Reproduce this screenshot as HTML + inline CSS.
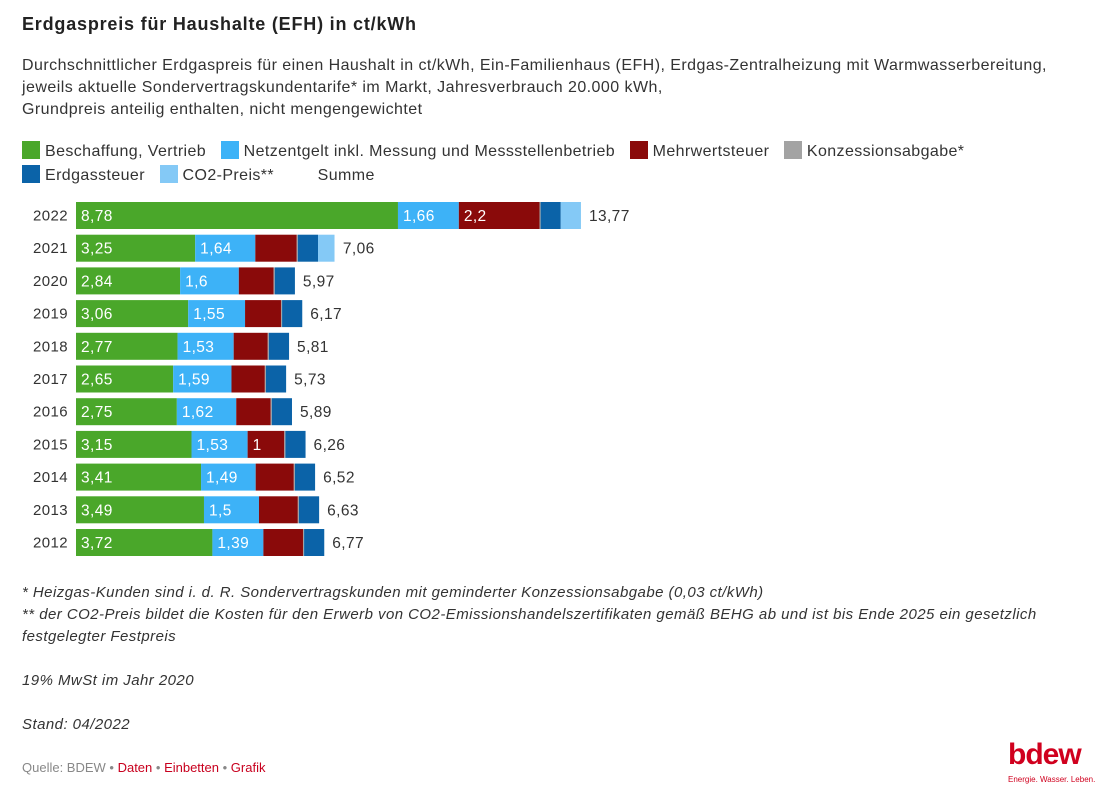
<!DOCTYPE html>
<html><head><meta charset="utf-8"><style>
body{margin:0;width:1113px;height:800px;background:#fff;font-family:"Liberation Sans",sans-serif;color:#333;position:relative;overflow:hidden}
.a{position:absolute;white-space:nowrap}
.sq{display:inline-block;width:18px;height:18px;vertical-align:-3px;margin-right:5px}
.it{font-style:italic;font-size:15px;letter-spacing:0.45px}
svg text{letter-spacing:0.4px}
</style></head><body>
<div class="a" style="left:22px;top:14px;font-size:18px;font-weight:bold;color:#222;letter-spacing:0.8px">Erdgaspreis für Haushalte (EFH) in ct/kWh</div>
<div class="a" style="left:22px;top:55px;font-size:16px;line-height:22px;letter-spacing:0.45px">Durchschnittlicher Erdgaspreis für einen Haushalt in ct/kWh, Ein-Familienhaus (EFH), Erdgas-Zentralheizung mit Warmwasserbereitung,<br>jeweils aktuelle Sondervertragskundentarife* im Markt, Jahresverbrauch 20.000 kWh,<br>Grundpreis anteilig enthalten, nicht mengengewichtet</div>
<div class="a" style="left:22px;top:140px;font-size:16px;line-height:24px;letter-spacing:0.4px">
<span><span class="sq" style="background:#4aa72a"></span>Beschaffung, Vertrieb</span>&nbsp;&nbsp;
<span><span class="sq" style="background:#3db2f7"></span>Netzentgelt inkl. Messung und Messstellenbetrieb</span>&nbsp;&nbsp;
<span><span class="sq" style="background:#8a0a0a"></span>Mehrwertsteuer</span>&nbsp;&nbsp;
<span><span class="sq" style="background:#a3a3a3"></span>Konzessionsabgabe*</span><br>
<span><span class="sq" style="background:#0b63a8"></span>Erdgassteuer</span>&nbsp;&nbsp;
<span><span class="sq" style="background:#84c9f6"></span>CO2-Preis**</span>&nbsp;&nbsp;&nbsp;&nbsp;&nbsp;&nbsp;&nbsp;&nbsp;
<span>Summe</span></div>
<svg class="a" style="left:0;top:0" width="1113" height="800" id="chart"></svg>
<div class="a it" style="left:22px;top:582px;line-height:22px">* Heizgas-Kunden sind i. d. R. Sondervertragskunden mit geminderter Konzessionsabgabe (0,03 ct/kWh)<br>** der CO2-Preis bildet die Kosten für den Erwerb von CO2-Emissionshandelszertifikaten gemäß BEHG ab und ist bis Ende 2025 ein gesetzlich<br>festgelegter Festpreis<br><br>19% MwSt im Jahr 2020<br><br>Stand: 04/2022</div>
<div class="a" style="left:22px;top:760px;font-size:13px;color:#888">Quelle: BDEW • <span style="color:#c8001e">Daten</span> • <span style="color:#c8001e">Einbetten</span> • <span style="color:#c8001e">Grafik</span></div>
<div class="a" style="left:1008px;top:738px;color:#d0001e;font-size:30px;font-weight:bold;letter-spacing:-1px">bdew</div>
<div class="a" style="left:1008px;top:775px;color:#d0001e;font-size:8px">Energie. Wasser. Leben.</div>
<script>
const years=["2022","2021","2020","2019","2018","2017","2016","2015","2014","2013","2012"];
const beschaffung=[8.78,3.25,2.84,3.06,2.77,2.65,2.75,3.15,3.41,3.49,3.72];
const netz=[1.66,1.64,1.6,1.55,1.53,1.59,1.62,1.53,1.49,1.5,1.39];
const mwst=[2.2,1.13,0.95,0.98,0.93,0.91,0.94,1.0,1.04,1.06,1.08];
const konz=[0.03,0.03,0.03,0.03,0.03,0.03,0.03,0.03,0.03,0.03,0.03];
const steuer=[0.55,0.55,0.55,0.55,0.55,0.55,0.55,0.55,0.55,0.55,0.55];
const co2=[0.55,0.45,0,0,0,0,0,0,0,0,0];
const summe=[13.77,7.06,5.97,6.17,5.81,5.73,5.89,6.26,6.52,6.63,6.77];
const svg=document.getElementById('chart');const NS='http://www.w3.org/2000/svg';
const x0=76,k=36.67,y0=202,step=32.7,bh=27;
const xs=v=>x0+v*k;const ys=i=>y0+i*step;
const fmt=v=>String(v).replace('.',',');
const series=[[beschaffung,'#4aa72a','beschaffung'],[netz,'#3db2f7','netzentgelt'],[mwst,'#8a0a0a','mwst'],[konz,'#a3a3a3','konzession'],[steuer,'#0b63a8','erdgassteuer'],[co2,'#84c9f6','co2']];
years.forEach((yr,i)=>{
 const t=document.createElementNS(NS,'text');t.setAttribute('x',68);t.setAttribute('y',ys(i)+bh/2+5);t.setAttribute('text-anchor','end');t.setAttribute('font-size','15');t.setAttribute('fill','#333');t.textContent=yr;
 
 
 svg.appendChild(t);
 let acc=0;
 series.forEach(([arr,col,nm])=>{
  const v=arr[i];if(v<=0)return;
  const r=document.createElementNS(NS,'rect');r.setAttribute('x',xs(acc));r.setAttribute('y',ys(i));r.setAttribute('width',v*k);r.setAttribute('height',bh);r.setAttribute('fill',col);
  
  
  svg.appendChild(r);
  const lbl=fmt(v);
  if(lbl.length*9+8<=v*k){const tt=document.createElementNS(NS,'text');tt.setAttribute('x',xs(acc)+5);tt.setAttribute('y',ys(i)+bh/2+5.5);tt.setAttribute('font-size','15.5');tt.setAttribute('fill','#fff');tt.textContent=lbl;
   
   
   svg.appendChild(tt);}
  acc+=v;
 });
 const s=document.createElementNS(NS,'text');s.setAttribute('x',xs(summe[i])+8);s.setAttribute('y',ys(i)+bh/2+5.5);s.setAttribute('font-size','15.5');s.setAttribute('fill','#333');s.textContent=fmt(summe[i]);
 
 
 svg.appendChild(s);
});
</script>
</body></html>
